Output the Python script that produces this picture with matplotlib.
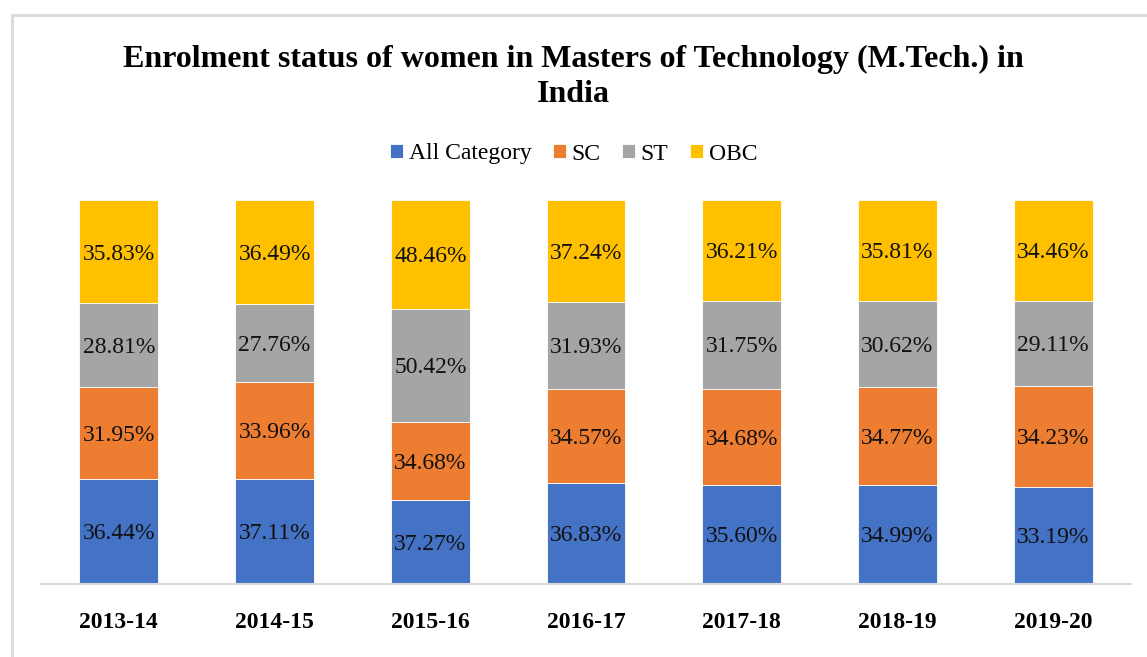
import numpy as np
import matplotlib
matplotlib.use("Agg")
import matplotlib.pyplot as plt
from matplotlib.patches import Rectangle

plt.rcParams['font.family'] = ['Liberation Serif', 'DejaVu Serif']

years = ["2013-14", "2014-15", "2015-16", "2016-17", "2017-18", "2018-19", "2019-20"]
series_names = ["All Category", "SC", "ST", "OBC"]
all_cat = [36.44, 37.11, 37.27, 36.83, 35.60, 34.99, 33.19]
sc = [31.95, 33.96, 34.68, 34.57, 34.68, 34.77, 34.23]
st = [28.81, 27.76, 50.42, 31.93, 31.75, 30.62, 29.11]
obc = [35.83, 36.49, 48.46, 37.24, 36.21, 35.81, 34.46]
colors = ["#4472C4", "#ED7D31", "#A5A5A5", "#FFC000"]

data = np.array([all_cat, sc, st, obc])
shares = data / data.sum(axis=0)

fig = plt.figure(figsize=(11.47, 6.57), dpi=100)
ax = fig.add_axes([41 / 1147, 73 / 657, 1090 / 1147, 384 / 657])

x = np.arange(len(years))
bottom = np.zeros(len(years))
for i, name in enumerate(series_names):
    ax.bar(x, shares[i], 0.507, bottom=bottom, color=colors[i], label=name,
           edgecolor="white", linewidth=0.6)
    for j in range(len(years)):
        ax.text(x[j], bottom[j] + shares[i][j] / 2 - 0.006, f"{data[i][j]:.2f}%",
                ha="center", va="center", fontsize=17, color="#111111")
    bottom += shares[i]

ax.set_xlim(-0.5, len(years) - 0.5)
ax.set_ylim(0, 1)
ax.set_xticks(x)
ax.set_xticklabels(years, fontsize=17, fontweight="bold")
ax.tick_params(axis="x", length=0, pad=20)
ax.set_yticks([])
for s in ["top", "right", "left"]:
    ax.spines[s].set_visible(False)
ax.spines["bottom"].set_color("#d9d9d9")
ax.spines["bottom"].set_linewidth(1.5)

fig.text(0.5, 1 - 77 / 657,
         "Enrolment status of women in Masters of Technology (M.Tech.) in\nIndia",
         ha="center", va="center", fontsize=23, fontweight="bold", linespacing=1.28)

fig.legend(loc="center", bbox_to_anchor=(0.5, 1 - 154 / 657), ncol=4, frameon=False,
           fontsize=17, handlelength=0.55, handleheight=0.55, handletextpad=0.25,
           columnspacing=0.9)

# chart border
fig.patches.append(Rectangle((12 / 1147, -0.05), 1.1, 1.05 - 15 / 657,
                             transform=fig.transFigure, fill=False,
                             edgecolor="#d9d9d9", linewidth=2))

fig.savefig("out.png", dpi=100)
